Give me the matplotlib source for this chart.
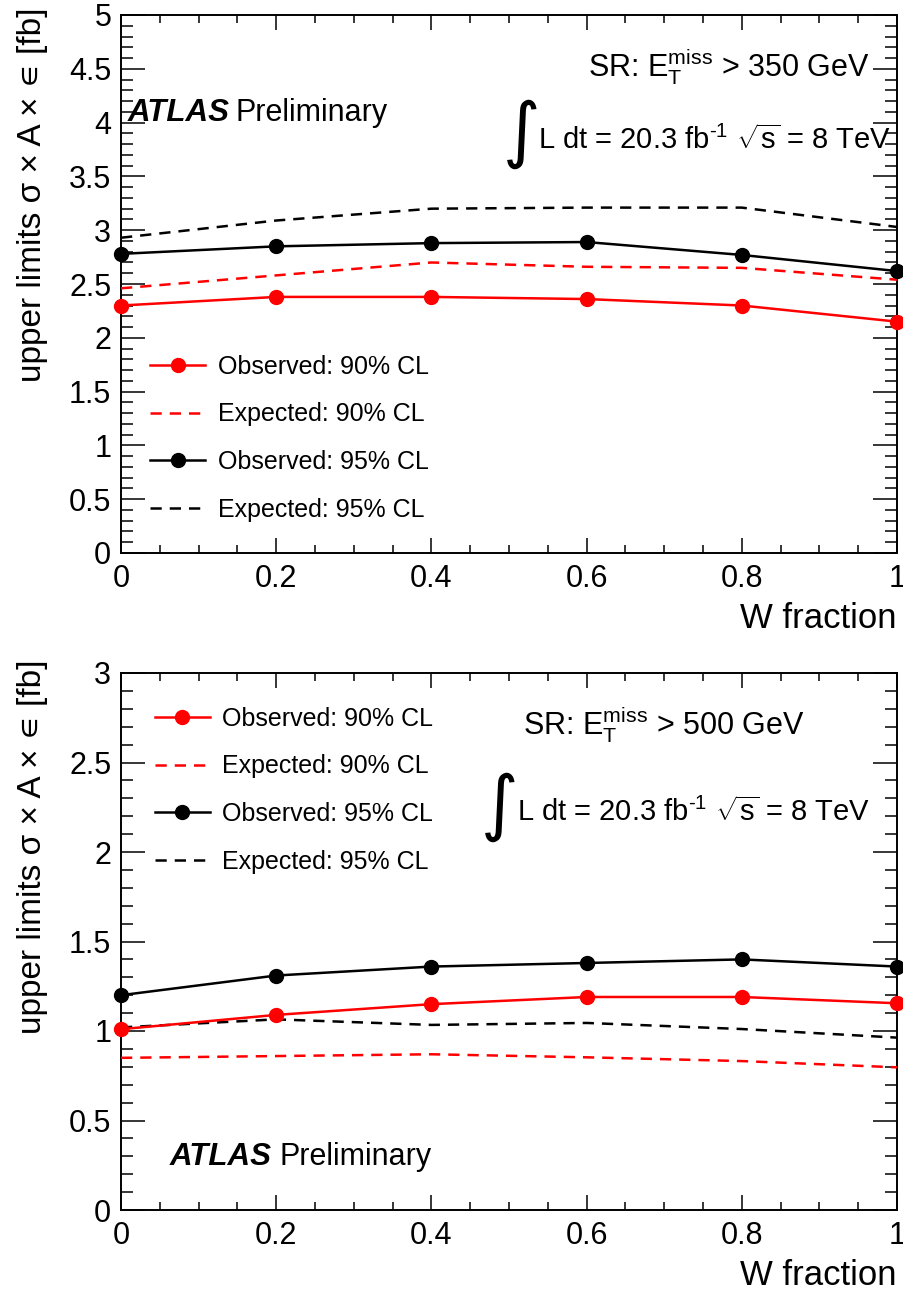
import matplotlib
matplotlib.use("Agg")
import matplotlib.pyplot as plt
from matplotlib.ticker import MultipleLocator

plt.rcParams['font.family'] = ['Liberation Sans', 'DejaVu Sans']
plt.rcParams['mathtext.fontset'] = 'custom'
plt.rcParams['mathtext.rm'] = 'Liberation Sans'
plt.rcParams['mathtext.it'] = 'Liberation Sans:italic'
plt.rcParams['mathtext.bf'] = 'Liberation Sans:bold'

# ---------------- data ----------------
w_fraction = [0.0, 0.2, 0.4, 0.6, 0.8, 1.0]

top_obs90 = [2.30, 2.38, 2.38, 2.36, 2.30, 2.15]
top_exp90 = [2.46, 2.58, 2.70, 2.66, 2.65, 2.54]
top_obs95 = [2.78, 2.85, 2.88, 2.89, 2.77, 2.62]
top_exp95 = [2.93, 3.09, 3.20, 3.21, 3.21, 3.03]

bot_obs90 = [1.01, 1.09, 1.15, 1.19, 1.19, 1.155]
bot_exp90 = [0.85, 0.86, 0.87, 0.853, 0.832, 0.797]
bot_obs95 = [1.20, 1.31, 1.36, 1.38, 1.40, 1.36]
bot_exp95 = [1.02, 1.065, 1.034, 1.045, 1.011, 0.963]

labels = ["Observed: 90% CL", "Expected: 90% CL",
          "Observed: 95% CL", "Expected: 95% CL"]
sr_labels = [r"SR: $\mathrm{E}_{\mathrm{T}}^{\mathrm{miss}}$ > 350 GeV",
             r"SR: $\mathrm{E}_{\mathrm{T}}^{\mathrm{miss}}$ > 500 GeV"]
lumi_label = r"L dt = 20.3 fb$^{\text{-1}}$ $\sqrt{\mathrm{s}}$ = 8 TeV"
ylabel = "upper limits σ × A × ∊ [fb]"
xlabel = "W fraction"

W, H = 904, 1293
fig = plt.figure(figsize=(W / 100, H / 100), dpi=100)


def fp(x, y):
    return x / W, 1 - y / H


def make_axes(top, bottom):
    l, r = 121, 897
    ax = fig.add_axes([l / W, 1 - bottom / H, (r - l) / W, (bottom - top) / H])
    return ax


ax1 = make_axes(15, 553)
ax2 = make_axes(673, 1210)

red = '#ff0000'
lw = 1.8
dash = (4.5, 3.2)


def draw(ax, obs90, exp90, obs95, exp95, ymax):
    h1, = ax.plot(w_fraction, obs90, color=red, lw=lw, marker='o', ms=10, clip_on=False, zorder=5)
    h2, = ax.plot(w_fraction, exp90, color=red, lw=lw, ls=(0, dash), zorder=4)
    h3, = ax.plot(w_fraction, obs95, color='black', lw=lw, marker='o', ms=10, clip_on=False, zorder=5)
    h4, = ax.plot(w_fraction, exp95, color='black', lw=lw, ls=(0, dash), zorder=4)
    ax.set_xlim(0, 1)
    ax.set_ylim(0, ymax)
    ax.xaxis.set_major_locator(MultipleLocator(0.2))
    ax.xaxis.set_minor_locator(MultipleLocator(0.05))
    ax.yaxis.set_major_locator(MultipleLocator(0.5))
    ax.yaxis.set_minor_locator(MultipleLocator(0.1))
    ax.xaxis.set_major_formatter(plt.FuncFormatter(lambda v, p: f"{v:g}"))
    ax.yaxis.set_major_formatter(plt.FuncFormatter(lambda v, p: f"{v:g}"))
    ax.tick_params(which='both', direction='in', top=True, right=True, width=1.1,
                   labelsize=22)
    ax.tick_params(axis='x', which='major', length=10.8, pad=8)
    ax.tick_params(axis='x', which='minor', length=5.8)
    ax.tick_params(axis='y', which='major', length=17, pad=7)
    ax.tick_params(axis='y', which='minor', length=8.6)
    for s in ax.spines.values():
        s.set_linewidth(1.4)
    ax.set_xlabel(xlabel, fontsize=25, loc='right', labelpad=6)
    return [h1, h2, h3, h4]


hs1 = draw(ax1, top_obs90, top_exp90, top_obs95, top_exp95, 5)
hs2 = draw(ax2, bot_obs90, bot_exp90, bot_obs95, bot_exp95, 3)

for ax, hs, (lx, ly) in ((ax1, hs1, (150, 355)), (ax2, hs2, (155, 707))):
    ax.legend(hs, labels, loc='upper left', bbox_to_anchor=fp(lx, ly),
              bbox_transform=fig.transFigure, frameon=False, fontsize=18,
              borderpad=0, borderaxespad=0, handlelength=2.2, handletextpad=0.5,
              labelspacing=0.94)

# y labels
for ytop in (8, 660):
    fig.text(*fp(33, ytop), ylabel, rotation=90, ha='center', va='top', fontsize=24)

# ATLAS Preliminary
for (ax_x, pr_x, yc) in ((128, 236, 113), (170, 280, 1157)):
    fig.text(*fp(ax_x, yc), "ATLAS", fontweight='bold', style='italic',
             fontsize=22.5, va='center', ha='left')
    fig.text(*fp(pr_x, yc), "Preliminary", fontsize=22, va='center', ha='left')

# SR labels
fig.text(*fp(870, 67), sr_labels[0], fontsize=22, ha='right', va='center')
fig.text(*fp(523, 725), sr_labels[1], fontsize=22, ha='left', va='center')

# integral + lumi
for (ix, iy, lx, ly) in ((503, 134, 538, 140), (481, 807, 517, 812)):
    fig.text(*fp(ix, iy), "∫", fontsize=52, ha='left', va='center',
             family=['DejaVu Sans'])
    fig.text(*fp(lx, ly), lumi_label, fontsize=21, ha='left', va='center')

fig.savefig("out.png", dpi=100)
